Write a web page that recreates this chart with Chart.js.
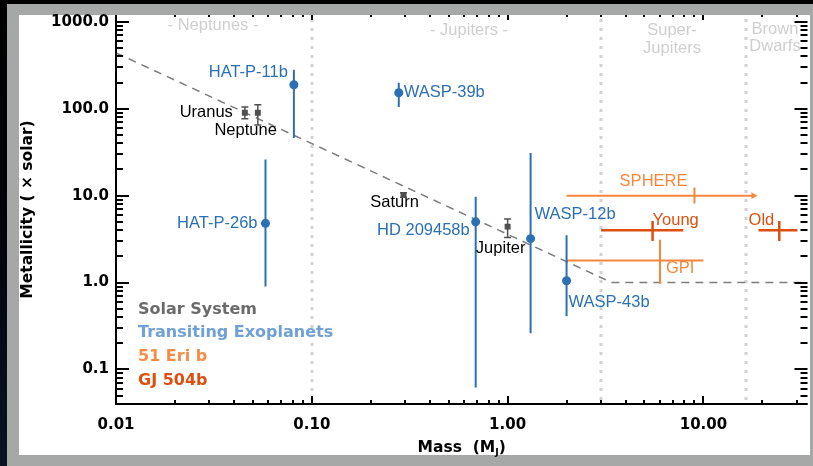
<!DOCTYPE html>
<html>
<head>
<meta charset="utf-8">
<script src="https://cdn.jsdelivr.net/npm/chart.js@4.4.1/dist/chart.umd.min.js"></script>
<style>
  html, body { margin: 0; padding: 0; background: #000; overflow: hidden; }
</style>
</head>
<body>
<canvas id="myChart" width="813" height="466"></canvas>
<script>
// --- data (mass in M_J, metallicity in x solar) ---
const solarNames = ['Uranus', 'Neptune', 'Saturn', 'Jupiter'];
const solarMass  = [0.0455, 0.053, 0.294, 1.0];
const solarZ     = [90, 90, 10.2, 4.4];
const solarZLo   = [77, 65, 9.6, 3.3];
const solarZHi   = [105, 111, 10.8, 5.4];

const transitNames = ['HAT-P-11b', 'HAT-P-26b', 'WASP-39b', 'HD 209458b', 'WASP-12b', 'WASP-43b'];
const transitMass  = [0.081, 0.058, 0.278, 0.687, 1.31, 2.0];
const transitZ     = [189, 4.8, 153, 5.0, 3.2, 1.05];
const transitZLo   = [46, 0.9, 105, 0.062, 0.26, 0.41];
const transitZHi   = [281, 26, 199, 9.7, 31, 3.5];

const eriNames  = ['SPHERE', 'GPI'];
const eriMass   = [9.0, 6.0];
const eriMassLo = [2.0, 2.0];
const eriMassHi = [18.0, 10.0];
const eriZ      = [10, 1.79];
const eriZLo    = [8.1, 0.97];
const eriZHi    = [12.4, 3.1];

const gjNames  = ['Young', 'Old'];
const gjMass   = [5.5, 24.4];
const gjMassLo = [3.0, 19.1];
const gjMassHi = [7.9, 30.2];
const gjZ      = [4.0, 4.0];
const gjZLo    = [3.0, 3.0];
const gjZHi    = [5.1, 5.1];

const trendMass = [0.01, 3.4, 34];
const trendZ    = [440, 1.0, 1.0];

const xTickLabels = ['0.01', '0.10', '1.00', '10.00'];
const dividerMass = [0.1, 3, 16.5];
const regionNames = [['- Neptunes -'], ['- Jupiters -'], ['Super-', 'Jupiters'], ['Brown', 'Dwarfs']];
const legendNames = ['Solar System', 'Transiting Exoplanets', '51 Eri b', 'GJ 504b'];

// --- styles ---
const GREY = '#4f4f4f', BLUE = '#2b70b3', ORANGE = '#f5873c', DKORANGE = '#dc500f';
const legendColors = ['#6b6b6b', '#6fa1d6', '#f78c45', '#dc500f'];

// label placement (pixel offsets from the point)
const labelStyle = {
  'Uranus':     { dx: -12, dy: 0,   align: 'right', color: '#000' },
  'Neptune':    { dx: 19,  dy: 18,  align: 'right', color: '#000' },
  'Saturn':     { dx: -9,  dy: 8,   align: 'center', color: '#000' },
  'Jupiter':    { dx: -7,  dy: 22,  align: 'center', color: '#000' },
  'HAT-P-11b':  { dx: -6,  dy: -12, align: 'right', color: BLUE },
  'HAT-P-26b':  { dx: -8,  dy: 0,   align: 'right', color: BLUE },
  'WASP-39b':   { dx: 5,   dy: 0,   align: 'left',  color: BLUE },
  'HD 209458b': { dx: -6,  dy: 9,   align: 'right', color: BLUE },
  'WASP-12b':   { dx: 4,   dy: -24, align: 'left',  color: BLUE },
  'WASP-43b':   { dx: 2,   dy: 22,  align: 'left',  color: BLUE },
  'SPHERE':     { dx: -7,  dy: -14, align: 'right', color: ORANGE },
  'GPI':        { dx: 6,   dy: 8,   align: 'left',  color: ORANGE },
  'Young':      { dx: 0,   dy: -10, align: 'left',  color: DKORANGE },
  'Old':        { dx: -5,  dy: -10, align: 'right', color: DKORANGE }
};

const datasets = [];
// markers first so they sit on top
datasets.push({ data: transitMass.map((m, i) => ({ x: m, y: transitZ[i] })),
  pointStyle: 'circle', pointRadius: 4.5, backgroundColor: BLUE, borderWidth: 0 });
datasets.push({ data: solarMass.map((m, i) => ({ x: m, y: solarZ[i] })),
  pointStyle: 'rect', pointRadius: 4.2, backgroundColor: GREY, borderWidth: 0 });

function seg(pts, color, width, opts) {
  return Object.assign({ data: pts, showLine: true, borderColor: color, borderWidth: width,
    pointRadius: 0, backgroundColor: color }, opts || {});
}
solarMass.forEach((m, i) => {
  datasets.push(seg([{ x: m, y: solarZLo[i] }, { x: m, y: solarZHi[i] }], GREY, 1.5,
    { pointStyle: 'line', pointRadius: 3.5, pointBorderColor: GREY, pointBorderWidth: 1.5 }));
});
transitMass.forEach((m, i) => {
  datasets.push(seg([{ x: m, y: transitZLo[i] }, { x: m, y: transitZHi[i] }], BLUE, 2));
});
eriMass.forEach((m, i) => {
  const arrow = i === 0;
  datasets.push(seg([{ x: eriMassLo[i], y: eriZ[i] }, { x: eriMassHi[i], y: eriZ[i] }], ORANGE, 2,
    arrow ? { pointStyle: 'triangle', pointRadius: [0, 4], pointRotation: [0, 90], pointBackgroundColor: ORANGE, pointBorderWidth: 0 } : {}));
  datasets.push(seg([{ x: m, y: eriZLo[i] }, { x: m, y: eriZHi[i] }], ORANGE, 2));
});
gjMass.forEach((m, i) => {
  datasets.push(seg([{ x: gjMassLo[i], y: gjZ[i] }, { x: gjMassHi[i], y: gjZ[i] }], DKORANGE, 2.5));
  datasets.push(seg([{ x: m, y: gjZLo[i] }, { x: m, y: gjZHi[i] }], DKORANGE, 2.5));
});
datasets.push(seg(trendMass.map((m, i) => ({ x: m, y: trendZ[i] })), '#7d7d7d', 1.5, { borderDash: [8, 6] }));

const isDecade = v => Math.abs(Math.log10(v) - Math.round(Math.log10(v))) < 1e-9;
const tickFont = { family: 'DejaVu Sans', weight: 'bold', size: 15 };

const framePlugin = {
  id: 'frame',
  beforeDraw(chart) {
    const ctx = chart.ctx;
    const g = ctx.createLinearGradient(0, 0, 0, 466);
    g.addColorStop(0, '#000000');
    g.addColorStop(0.45, '#020308');
    g.addColorStop(1, '#0b1222');
    ctx.save();
    ctx.fillStyle = g; ctx.fillRect(0, 0, 813, 466);
    ctx.fillStyle = '#a5a8a6'; ctx.fillRect(7, 4, 806, 462);
    ctx.fillStyle = '#ffffff'; ctx.fillRect(19, 15, 791, 440);
    // dotted region dividers
    const xs = chart.scales.x, a = chart.chartArea;
    ctx.strokeStyle = '#d2d2d2'; ctx.lineWidth = 3; ctx.setLineDash([3, 6]);
    dividerMass.forEach(m => {
      const px = Math.round(xs.getPixelForValue(m));
      ctx.beginPath(); ctx.moveTo(px, a.top + 4); ctx.lineTo(px, a.bottom); ctx.stroke();
    });
    ctx.setLineDash([]);
    // region titles
    ctx.fillStyle = '#cfcfcf'; ctx.font = '16.5px "Liberation Sans"'; ctx.textBaseline = 'middle'; ctx.textAlign = 'center';
    const regionX = [213, 469, 672, 775];
    const regionY = [[25], [30], [30, 48], [29, 46]];
    regionNames.forEach((lines, i) => lines.forEach((t, j) => ctx.fillText(t, regionX[i], regionY[i][j])));
    ctx.restore();
  },
  afterDraw(chart) {
    const ctx = chart.ctx, a = chart.chartArea, xs = chart.scales.x, ys = chart.scales.y;
    ctx.save();
    ctx.strokeStyle = '#000'; ctx.lineWidth = 2;
    // axis lines
    ctx.beginPath();
    ctx.moveTo(a.left, a.top); ctx.lineTo(a.left, a.bottom + 1);
    ctx.moveTo(a.left - 1, a.bottom); ctx.lineTo(a.right, a.bottom);
    ctx.stroke();
    // tick marks
    const tickVals = (lo, hi) => {
      const out = [];
      for (let e = Math.floor(Math.log10(lo)); e <= Math.ceil(Math.log10(hi)); e++) {
        for (let k = 1; k <= 9; k++) {
          const v = k * Math.pow(10, e);
          if (v >= lo * 0.999 && v <= hi) out.push(v);
        }
      }
      return out;
    };
    ctx.beginPath();
    tickVals(xs.min, xs.max).forEach(v => {
      const px = Math.round(xs.getPixelForValue(v));
      const major = isDecade(v);
      ctx.moveTo(px, a.bottom); ctx.lineTo(px, a.bottom - (major ? 8 : 4));
      ctx.moveTo(px, a.top); ctx.lineTo(px, a.top + (major ? 5 : 2));
    });
    tickVals(ys.min, ys.max).forEach(v => {
      const py = Math.round(ys.getPixelForValue(v));
      const major = isDecade(v);
      ctx.moveTo(a.left, py); ctx.lineTo(a.left + (major ? 13 : 7), py);
      ctx.moveTo(a.right, py); ctx.lineTo(a.right - (major ? 13 : 7), py);
    });
    ctx.stroke();

    // x tick labels, placed on the scale's decade positions
    ctx.fillStyle = '#000'; ctx.font = 'bold 15px "DejaVu Sans"';
    ctx.textAlign = 'center'; ctx.textBaseline = 'middle';
    xTickLabels.forEach(t => ctx.fillText(t, xs.getPixelForValue(parseFloat(t)), a.bottom + 21));

    // point labels
    ctx.font = '16.5px "Liberation Sans"';
    const put = (name, m, z) => {
      const s = labelStyle[name];
      ctx.fillStyle = s.color; ctx.textAlign = s.align;
      ctx.fillText(name, xs.getPixelForValue(m) + s.dx, ys.getPixelForValue(z) + s.dy);
    };
    solarNames.forEach((n, i) => put(n, solarMass[i], solarZ[i]));
    transitNames.forEach((n, i) => put(n, transitMass[i], transitZ[i]));
    eriNames.forEach((n, i) => put(n, eriMass[i], eriZ[i]));
    gjNames.forEach((n, i) => put(n, gjMass[i], gjZ[i]));

    // legend text
    ctx.font = 'bold 16px "DejaVu Sans"'; ctx.textAlign = 'left';
    const legY = [310, 333, 357, 381];
    legendNames.forEach((t, i) => { ctx.fillStyle = legendColors[i]; ctx.fillText(t, 138, legY[i]); });

    // axis titles
    ctx.fillStyle = '#000';
    const big = 'bold 15.5px "DejaVu Sans"', small = 'bold 9.5px "DejaVu Sans"';
    const t1 = 'Mass  (M', t2 = ')';
    ctx.font = big;
    const w1 = ctx.measureText(t1).width, w2 = ctx.measureText(t2).width;
    ctx.font = small;
    const ws = ctx.measureText('J').width;
    const x0 = (a.left + a.right) / 2 - (w1 + ws + w2) / 2;
    ctx.textAlign = 'left';
    ctx.font = big;
    ctx.fillText(t1, x0, 448);
    ctx.font = small;
    ctx.fillText('J', x0 + w1, 453);
    ctx.font = big;
    ctx.fillText(t2, x0 + w1 + ws, 448);

    ctx.translate(28, (a.top + a.bottom) / 2);
    ctx.rotate(-Math.PI / 2);
    ctx.textAlign = 'center';
    ctx.fillText('Metallicity ( \u00d7 solar)', 0, 0);
    ctx.restore();
  }
};

new Chart(document.getElementById('myChart'), {
  type: 'scatter',
  data: { datasets: datasets },
  options: {
    responsive: false,
    animation: false,
    events: [],
    layout: { padding: { left: 19, right: 3, top: 15, bottom: 11 } },
    plugins: { legend: { display: false }, tooltip: { enabled: false } },
    scales: {
      x: {
        type: 'logarithmic', min: 0.01, max: 34,
        grid: { display: false, drawTicks: false },
        border: { display: false },
        ticks: { display: false },
        afterFit: s => { s.height = 51; s.paddingLeft = 0; s.paddingRight = 0; }
      },
      y: {
        type: 'logarithmic', min: 0.04, max: 1200,
        grid: { display: false, drawTicks: false },
        border: { display: false },
        ticks: { autoSkip: false, font: tickFont, color: '#000', padding: 7,
          callback: v => isDecade(v) ? v.toFixed(1) : '' },
        afterFit: s => { s.width = 97; s.paddingTop = 0; s.paddingBottom = 0; }
      }
    }
  },
  plugins: [framePlugin]
});
</script>
</body>
</html>
